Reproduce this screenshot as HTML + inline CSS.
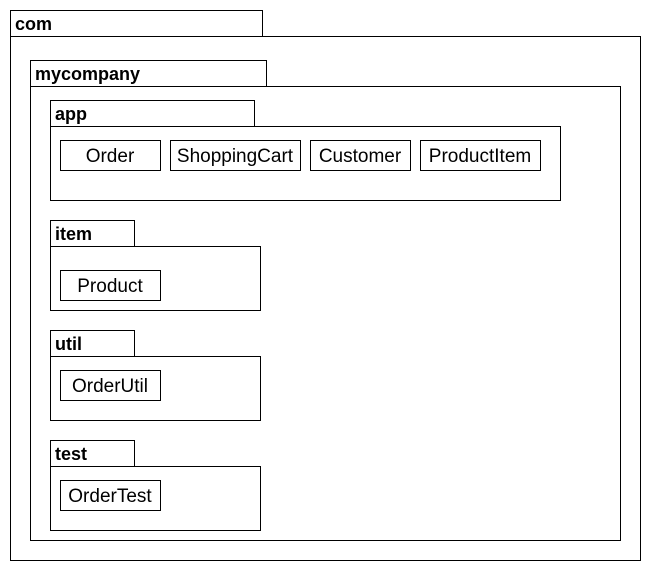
<!DOCTYPE html>
<html><head><meta charset="utf-8"><style>
html,body{margin:0;padding:0;background:#fff;}
svg{display:block;}
text{font-family:"Liberation Sans","DejaVu Sans",sans-serif;fill:#000;}
.b{font-weight:bold;font-size:18px;}
.n{font-size:19px;}
rect{fill:none;stroke:#000;stroke-width:1;}
</style></head><body>
<svg width="650" height="570" viewBox="0 0 650 570">
<g transform="translate(0.5,0.5)">
<rect x="10" y="10" width="252" height="26"/>
<rect x="10" y="36" width="630" height="524"/>
<rect x="30" y="60" width="236" height="26"/>
<rect x="30" y="86" width="590" height="454"/>
<rect x="50" y="100" width="204" height="26"/>
<rect x="50" y="126" width="510" height="74"/>
<rect x="60" y="140" width="100" height="30"/>
<rect x="170" y="140" width="130" height="30"/>
<rect x="310" y="140" width="100" height="30"/>
<rect x="420" y="140" width="120" height="30"/>
<rect x="50" y="220" width="84" height="26"/>
<rect x="50" y="246" width="210" height="64"/>
<rect x="60" y="270" width="100" height="30"/>
<rect x="50" y="330" width="84" height="26"/>
<rect x="50" y="356" width="210" height="64"/>
<rect x="60" y="370" width="100" height="30"/>
<rect x="50" y="440" width="84" height="26"/>
<rect x="50" y="466" width="210" height="64"/>
<rect x="60" y="480" width="100" height="30"/>
</g>
<text class="b" x="15" y="30">com</text>
<text class="b" x="35" y="80">mycompany</text>
<text class="b" x="55" y="120">app</text>
<text class="b" x="55" y="240">item</text>
<text class="b" x="55" y="350">util</text>
<text class="b" x="55" y="460">test</text>
<g text-anchor="middle">
<text class="n" x="110" y="162">Order</text>
<text class="n" x="235" y="162">ShoppingCart</text>
<text class="n" x="360" y="162">Customer</text>
<text class="n" x="480" y="162">ProductItem</text>
<text class="n" x="110" y="292">Product</text>
<text class="n" x="110" y="392">OrderUtil</text>
<text class="n" x="110" y="502">OrderTest</text>
</g>
</svg>
</body></html>
